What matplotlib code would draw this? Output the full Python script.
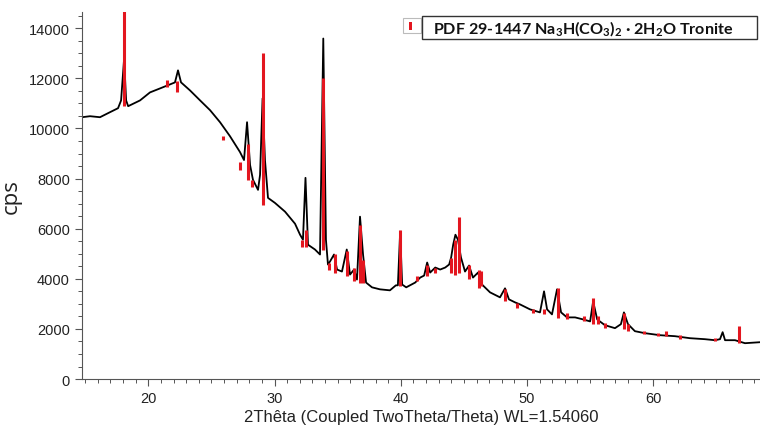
import matplotlib
matplotlib.use("Agg")
import matplotlib.pyplot as plt
from matplotlib.patches import Rectangle
from matplotlib.ticker import MultipleLocator

two_theta = [14.75, 15.38, 16.17, 16.96, 17.60, 17.84, 18.08, 18.24, 18.40, 19.34,
             20.13, 20.93, 21.72, 22.11, 22.35, 22.59, 23.30, 24.10, 24.89, 25.68,
             26.47, 27.26, 27.58, 27.82, 28.06, 28.29, 28.69, 28.85, 29.05, 29.24,
             29.48, 30.03, 30.83, 31.62, 32.02, 32.25, 32.45, 32.65, 33.20, 33.60,
             33.86, 34.07, 34.23, 34.39, 34.71, 34.95, 35.34, 35.72, 35.98, 36.30,
             36.53, 36.77, 37.01, 37.25, 37.72, 38.35, 39.14, 39.61, 39.77, 39.95,
             40.11, 40.43, 41.14, 41.54, 41.85, 42.09, 42.33, 42.73, 43.12, 43.52,
             43.83, 43.99, 44.15, 44.33, 44.53, 44.77, 45.09, 45.41, 45.72, 46.12,
             46.44, 47.07, 47.86, 48.26, 48.57, 49.05, 49.44, 50.24, 51.03, 51.35,
             51.59, 51.98, 52.38, 52.70, 53.17, 53.81, 54.44, 55.00, 55.24, 55.56,
             56.17, 56.97, 57.44, 57.68, 58.00, 58.55, 59.34, 60.53, 61.72, 62.91,
             64.10, 64.89, 65.29, 65.50, 65.69, 66.48, 67.27, 68.46]
cps = [10450, 10490, 10450, 10650, 10810, 11120, 12790, 11120, 10890, 11120,
       11440, 11600, 11760, 11840, 12320, 11840, 11520, 11120, 10730, 10250,
       9690, 9060, 8740, 10250, 8540, 7950, 7550, 8150, 11200, 8740,
       7230, 7030, 6680, 6200, 5760, 5560, 8030, 5360, 5170, 4970,
       13590, 5560, 4570, 4690, 4970, 4370, 4290, 5170, 4170, 4370,
       3970, 6480, 4970, 3850, 3660, 3580, 3540, 3740, 3740, 5880,
       3770, 3660, 3850, 4050, 4130, 4650, 4250, 4450, 4370, 4450,
       4570, 4850, 5360, 5760, 5560, 4850, 4290, 4530, 4050, 4250,
       3770, 3460, 3260, 3620, 3180, 3060, 2980, 2780, 2660, 3500,
       2780, 2580, 3580, 2660, 2460, 2460, 2380, 2300, 3100, 2380,
       2150, 2030, 2190, 2660, 2190, 1910, 1830, 1750, 1710, 1630,
       1590, 1550, 1590, 1870, 1550, 1550, 1430, 1470]

# PDF 29-1447 reference lines drawn over the background
stick_pos = [18.08, 21.48, 22.30, 25.92, 27.26, 27.87, 28.19, 29.06, 32.15, 32.47,
             33.86, 34.35, 34.75, 35.72, 36.32, 36.77, 37.03, 39.94, 41.26, 42.05,
             42.70, 43.98, 44.32, 44.60, 45.43, 46.20, 46.32, 48.26, 49.20, 50.50,
             51.38, 52.43, 53.20, 54.50, 55.20, 55.65, 56.20, 57.70, 58.00, 59.30,
             60.40, 61.00, 62.10, 64.90, 66.80]
stick_bottom = [10900, 11650, 11450, 9550, 8350, 7950, 7650, 6950, 5250, 5250,
                5150, 4350, 4250, 4100, 3900, 3850, 3850, 3700, 3900, 4100,
                4250, 4250, 4150, 4250, 4000, 3650, 3700, 3100, 2850, 2650,
                2600, 2450, 2400, 2300, 2200, 2200, 2050, 2000, 1900, 1800,
                1700, 1700, 1600, 1500, 1450]
stick_top = [15000, 11950, 11900, 9700, 8650, 9400, 7950, 13000, 5560, 5960,
             12000, 4650, 5000, 5100, 4450, 6150, 4750, 5950, 4100, 4550,
             4450, 4850, 5550, 6450, 4550, 4350, 4300, 3600, 3050, 2800,
             2800, 3650, 2650, 2500, 3250, 2500, 2250, 2650, 2200, 1900,
             1850, 1900, 1750, 1650, 2100]

red = "#e3161f"

fig = plt.figure(figsize=(7.6, 4.27), dpi=100)
ax = fig.add_axes([0.1075, 0.110, 0.8925, 0.8596])

ax.plot(two_theta, cps, color="black", lw=1.3, zorder=2)
ax.vlines(stick_pos, stick_bottom, stick_top, colors=red, lw=2.2, zorder=3)

ax.set_xlim(14.72, 68.46)
ax.set_ylim(0, 14650)
ax.xaxis.set_major_locator(MultipleLocator(10))
ax.xaxis.set_minor_locator(MultipleLocator(1))
ax.yaxis.set_major_locator(MultipleLocator(2000))
ax.yaxis.set_minor_locator(MultipleLocator(500))
ax.spines["top"].set_visible(False)
ax.spines["right"].set_visible(False)
for sp in ("left", "bottom"):
    ax.spines[sp].set_color("#555555")
    ax.spines[sp].set_linewidth(0.8)
ax.tick_params(which="major", length=5, width=0.8, color="#555555",
               labelsize=10.5, labelcolor="#222222")
ax.tick_params(which="minor", length=3, width=0.7, color="#555555")
for lab in ax.get_xticklabels() + ax.get_yticklabels():
    lab.set_family("Liberation Sans")

ax.set_xlabel("2Thêta (Coupled TwoTheta/Theta) WL=1.54060", family="Liberation Sans",
              fontsize=12, color="#222222", labelpad=3)
ax.set_ylabel("cps", family="Open Sans", fontsize=16, color="#222222")
ax.yaxis.set_label_coords(-0.088, 0.50)

# legend box drawn by hand, like the EVA export
plt.rcParams["mathtext.default"] = "regular"
fig.add_artist(Rectangle((403 / 760, 1 - 34 / 427), 18 / 760, 15 / 427,
                         transform=fig.transFigure, fc="white", ec="#bbbbbb", lw=0.8))
fig.add_artist(Rectangle((408.5 / 760, 1 - 31 / 427), 3.5 / 760, 8 / 427,
                         transform=fig.transFigure, fc=red, ec="none"))
fig.add_artist(Rectangle((422 / 760, 1 - 40 / 427), 335 / 760, 23 / 427,
                         transform=fig.transFigure, fc="white", ec="#333333", lw=1.0))
fig.text(433 / 760, 1 - 29 / 427, "PDF 29-1447 Na$_3$H(CO$_3$)$_2$ · 2H$_2$O Tronite",
         family="Lato", weight="bold", fontsize=11.6, va="center", ha="left",
         color="#111111")

fig.savefig("out.png", dpi=100)
